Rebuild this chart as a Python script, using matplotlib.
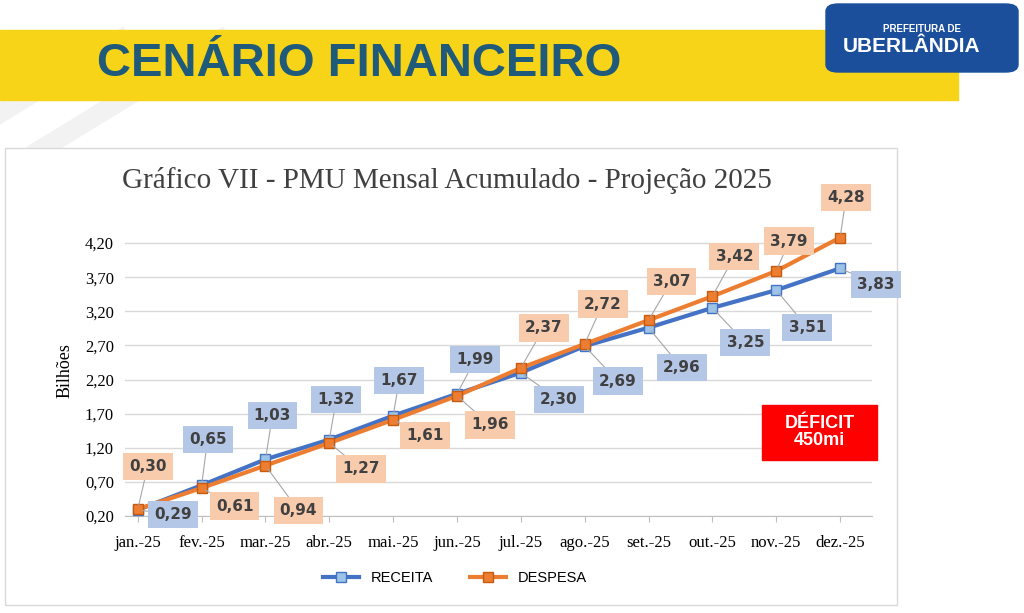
import matplotlib
matplotlib.use("Agg")
import matplotlib.pyplot as plt
from matplotlib.patches import Rectangle, FancyBboxPatch
from matplotlib.lines import Line2D

months = ["jan.-25","fev.-25","mar.-25","abr.-25","mai.-25","jun.-25","jul.-25","ago.-25","set.-25","out.-25","nov.-25","dez.-25"]
receita = [0.29,0.65,1.03,1.32,1.67,1.99,2.30,2.69,2.96,3.25,3.51,3.83]
despesa = [0.30,0.61,0.94,1.27,1.61,1.96,2.37,2.72,3.07,3.42,3.79,4.28]
yticks = [0.20,0.70,1.20,1.70,2.20,2.70,3.20,3.70,4.20]

# label offsets in pixels (style)
rec_off = [(35,-5),(6,46),(7,44),(7,40),(6,35),(18,34),(38,-27),(33,-35),(33,-40),(33,-35),(31,-37),(36,-16)]
des_off = [(10,43),(33,-18),(33,-45),(32,-26),(32,-16),(33,-29),(23,40),(18,40),(23,39),(22,40),(13,30),(6,40)]

fig = plt.figure(figsize=(10.24,6.13), dpi=100)
W, H = 1024, 613
def fr(x0,y0,x1,y1):
    return (x0/W, 1-y1/H, (x1-x0)/W, (y1-y0)/H)

for x0 in [-60, 40]:
    fig.add_artist(Line2D([x0/W,(x0+180)/W],[1-150/H,1-40/H],transform=fig.transFigure,color="#f2f2f2",lw=14,zorder=-3))
fig.patches.append(Rectangle((0,1-100/H),958/W,70/H,transform=fig.transFigure,color="#f7d417",zorder=-2))
fig.text(97/W,1-64/H,"CENÁRIO FINANCEIRO",fontsize=34,fontweight="bold",color="#1f5a7a",
         family="Liberation Sans",va="center")
fig.patches.append(FancyBboxPatch((826/W,1-72/H),192/W,68/H,boxstyle="round,pad=0,rounding_size=0.012",
                   transform=fig.transFigure,color="#1b4f9c",zorder=-2))
fig.text(922/W,1-32/H,"PREFEITURA DE",fontsize=7,fontweight="bold",color="white",ha="center",family="Liberation Sans")
fig.text(912/W,1-47/H,"UBERLÂNDIA",fontsize=15,fontweight="bold",color="white",ha="center",va="center",family="Liberation Sans")
fig.patches.append(Rectangle((5/W,1-605/H),892/W,457/H,transform=fig.transFigure,fc="white",ec="#d9d9d9",lw=1,zorder=-1))

ax = fig.add_axes(fr(125,226,872,516))
ax.patch.set_alpha(0)
x = list(range(len(months)))
ax.plot(x, receita, color="#4472c4", lw=3, marker="s", ms=7, mfc="#9dc3e6", mec="#4472c4", zorder=3)
ax.plot(x, despesa, color="#ed7d31", lw=3, marker="s", ms=7, mfc="#ed7d31", mec="#c55a11", zorder=4)
ax.set_ylim(0.2,4.45)
ax.set_xlim(-0.2,11.5)
ax.set_yticks(yticks)
ax.set_yticklabels([f"{v:.2f}".replace(".",",") for v in yticks], family="Liberation Serif", fontsize=12)
ax.set_xticks(x)
ax.set_xticklabels(months, family="Liberation Serif", fontsize=12)
ax.grid(axis="y", color="#d9d9d9", lw=1)
for s in ["top","right","left"]:
    ax.spines[s].set_visible(False)
ax.spines["bottom"].set_color("#bfbfbf")
ax.tick_params(axis="y", length=0, pad=8)
ax.tick_params(axis="x", length=4, color="#bfbfbf", pad=10)
ax.set_ylabel("Bilhões", family="Liberation Serif", fontsize=13, labelpad=8)

def lab(vals, offs, fc):
    for i,(v,o) in enumerate(zip(vals,offs)):
        ax.annotate(f"{v:.2f}".replace(".",","), (i,v), xytext=o, textcoords="offset pixels",
                    ha="center", va="center", fontsize=11, fontweight="bold", color="#404040",
                    family="DejaVu Sans",
                    bbox=dict(boxstyle="square,pad=0.4", fc=fc, ec="none"),
                    arrowprops=dict(arrowstyle="-", color="#a6a6a6", lw=0.8, shrinkA=0, shrinkB=3),
                    zorder=5, annotation_clip=False)
lab(receita, rec_off, "#b4c7e7")
lab(despesa, des_off, "#f8cbad")

fig.text(447/W,1-181/H,"Gráfico VII - PMU Mensal Acumulado - Projeção 2025",fontsize=21,
         family="Liberation Serif",color="#404040",ha="center",va="center")

fig.patches.append(Rectangle((762/W,1-460/H),115/W,55/H,transform=fig.transFigure,color="#ff0000",zorder=5))
fig.text(819.5/W,1-432/H,"DÉFICIT\n450mi",fontsize=13,fontweight="bold",color="white",ha="center",va="center",
         family="Liberation Sans",linespacing=1.0,zorder=6)

h = [Line2D([],[],color="#4472c4",lw=3,marker="s",ms=7,mfc="#9dc3e6",mec="#4472c4"),
     Line2D([],[],color="#ed7d31",lw=3,marker="s",ms=7,mfc="#ed7d31",mec="#c55a11")]
fig.legend(h,["RECEITA","DESPESA"],loc="center",bbox_to_anchor=(455/W,1-578/H),ncol=2,frameon=False,
           prop={"family":"Liberation Sans","size":10.5},handlelength=2.5,columnspacing=2.5)

fig.savefig("out.png", dpi=100)
